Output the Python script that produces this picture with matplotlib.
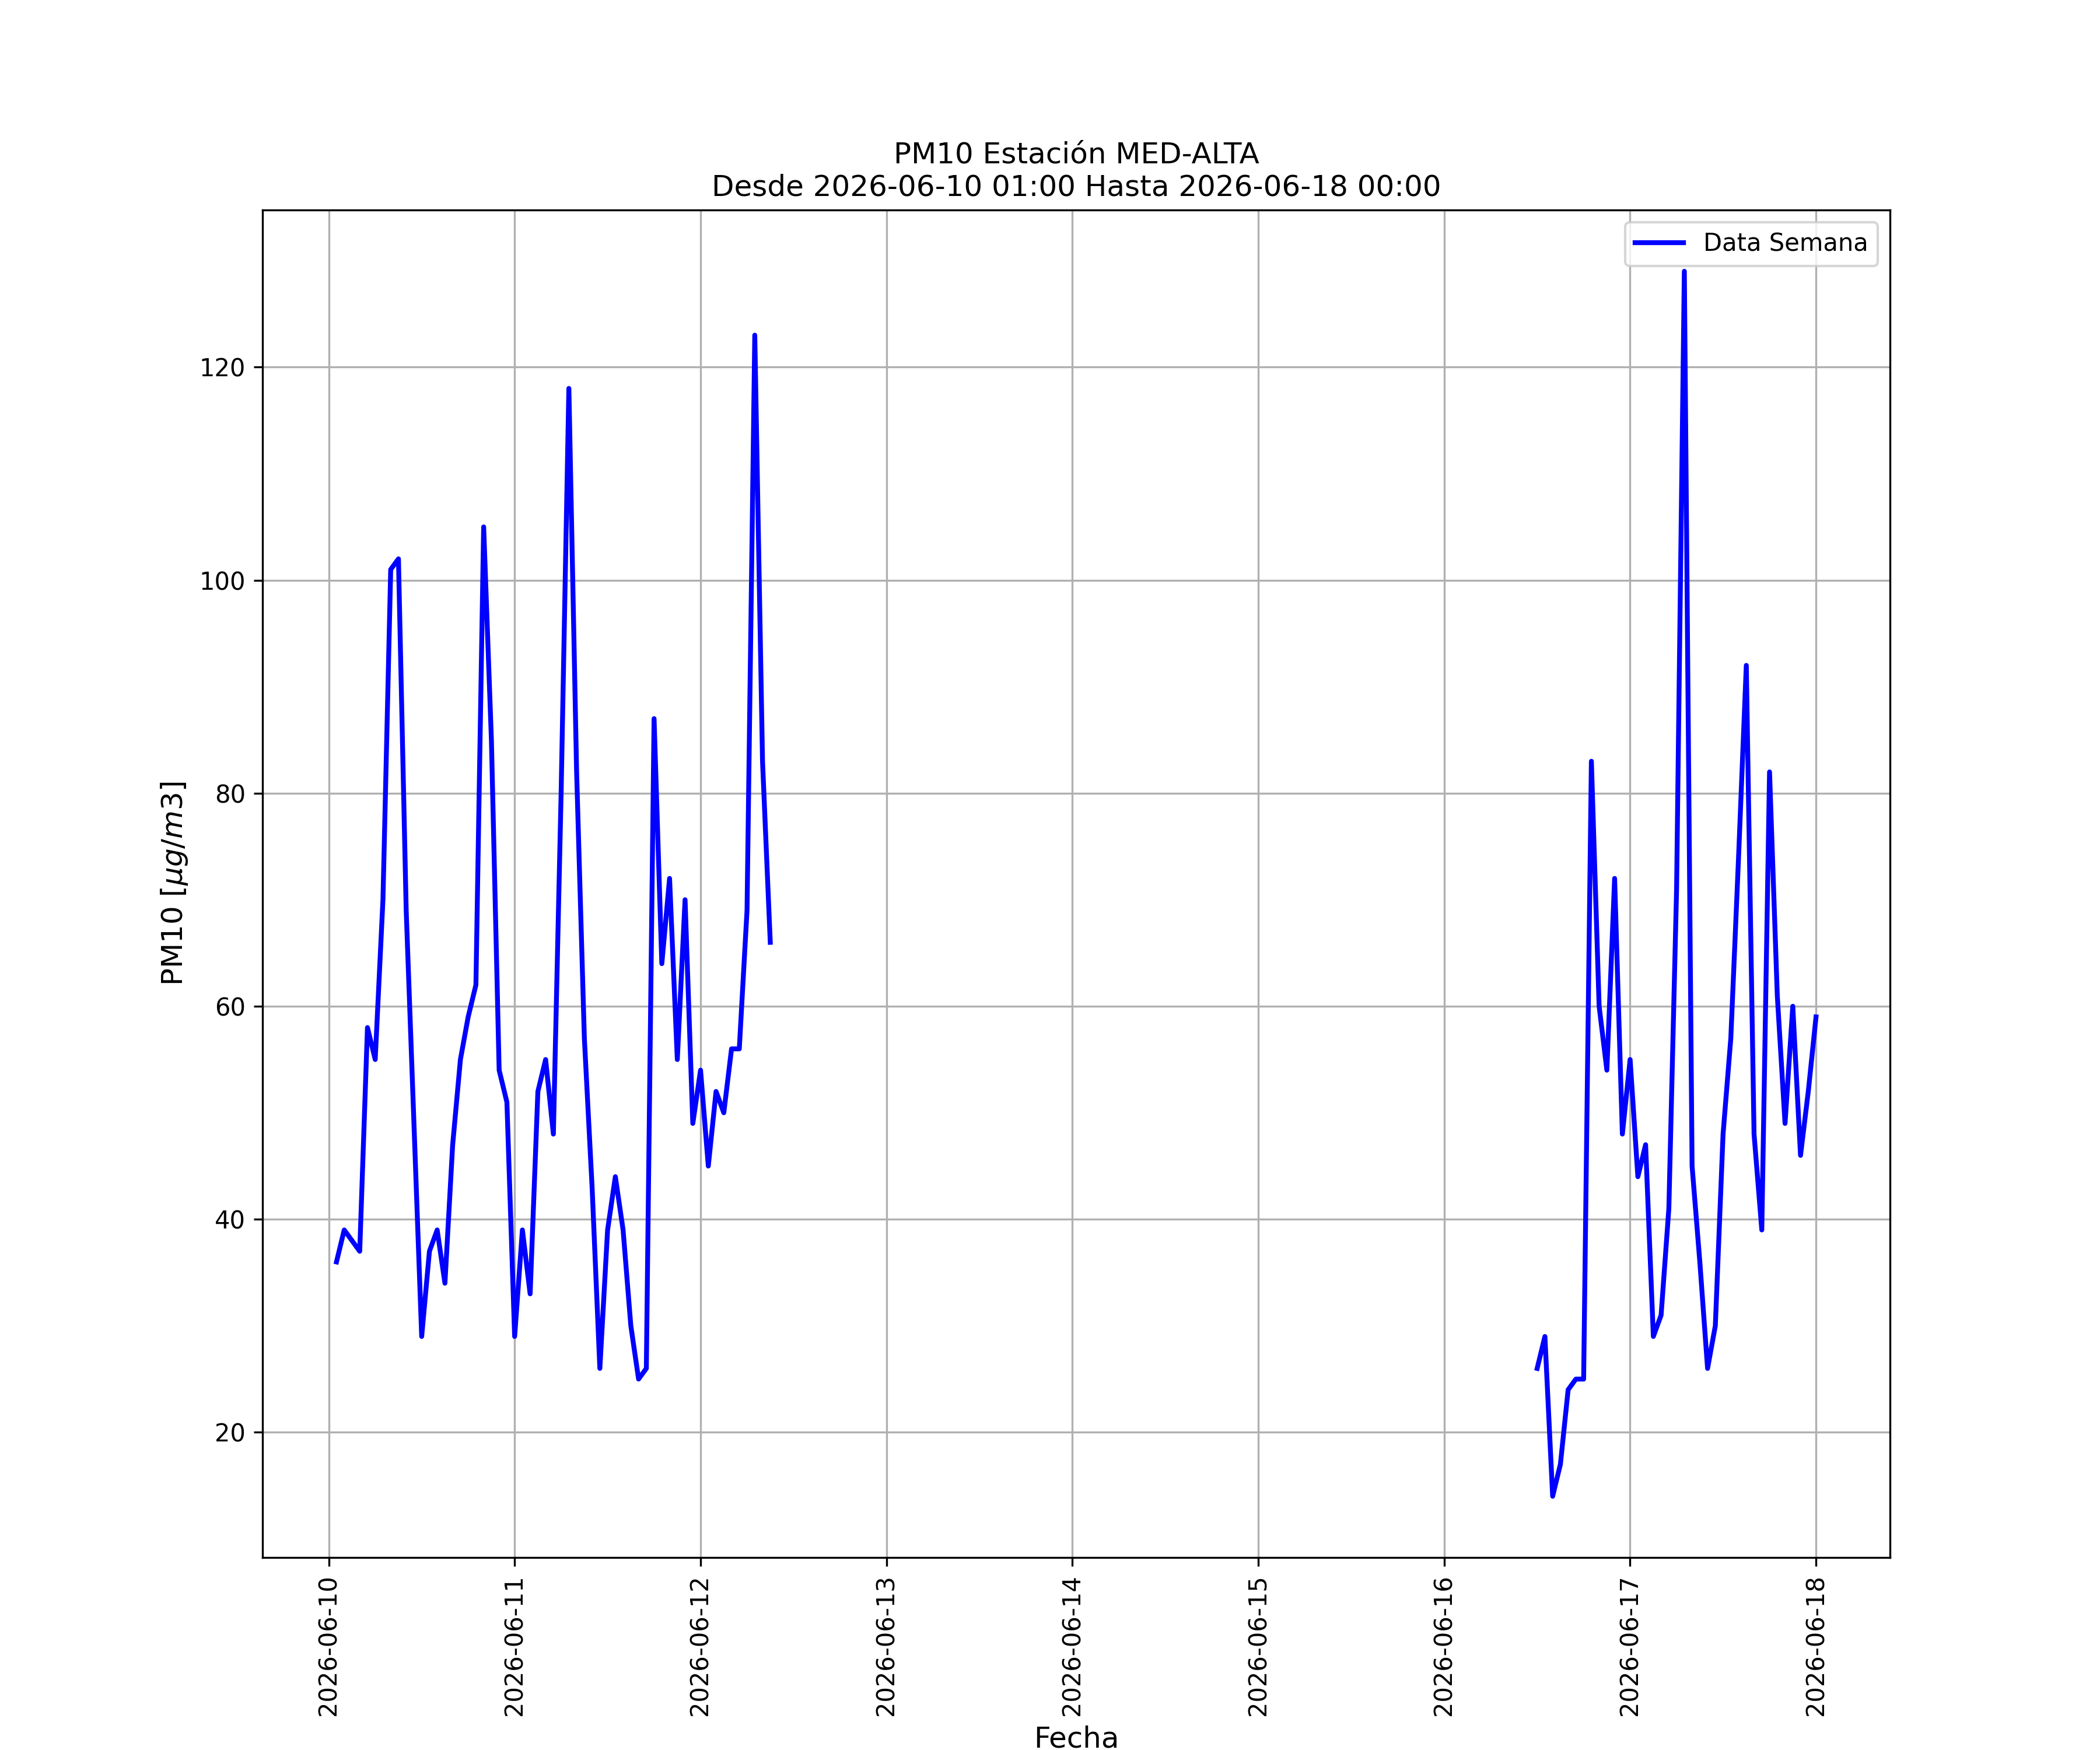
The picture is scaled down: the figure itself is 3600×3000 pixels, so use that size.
import numpy as np
import pandas as pd
import matplotlib
matplotlib.use('Agg')
import matplotlib.pyplot as plt
import matplotlib.dates as mdates

station = 'MED-ALTA'
date_from = '2026-06-10 01:00'
date_to = '2026-06-18 00:00'

# hourly PM10, first block: 2026-06-10 01:00 .. 2026-06-12 09:00
start_1 = '2026-06-10 01:00'
pm10_1 = [36, 39, 38, 37, 58, 55, 70, 101, 102, 69, 49, 29, 37, 39, 34, 47,
          55, 59, 62, 105, 85, 54, 51,
          29, 39, 33, 52, 55, 48, 80, 118, 82, 57, 43, 26, 39, 44, 39, 30,
          25, 26, 87, 64, 72, 55, 70, 49,
          54, 45, 52, 50, 56, 56, 69, 123, 83, 66]

# second block: 2026-06-16 12:00 .. 2026-06-18 00:00
start_2 = '2026-06-16 12:00'
pm10_2 = [26, 29, 14, 17, 24, 25, 25, 83, 60, 54, 72, 48,
          55, 44, 47, 29, 31, 41, 71, 129, 45, 36, 26, 30, 48, 57,
          74, 92, 48, 39, 82, 61, 49, 60, 46, 52,
          59]

s1 = pd.Series(pm10_1, index=pd.date_range(start_1, periods=len(pm10_1), freq='h'))
s2 = pd.Series(pm10_2, index=pd.date_range(start_2, periods=len(pm10_2), freq='h'))
full_idx = pd.date_range(date_from, date_to, freq='h')
data = pd.concat([s1, s2]).reindex(full_idx).astype(float)

fig, ax = plt.subplots(figsize=(12, 10))
ax.plot(data.index, data.values, color='blue', linewidth=2, label='Data Semana')
ax.set_title('PM10 Estación ' + station + '\nDesde ' + date_from + ' Hasta ' + date_to)
ax.set_xlabel('Fecha', fontsize=12)
ax.set_ylabel(r'PM10 [$\mu g/m3$]', fontsize=12)
ax.xaxis.set_major_locator(mdates.DayLocator())
ax.xaxis.set_major_formatter(mdates.DateFormatter('%Y-%m-%d'))
plt.setp(ax.get_xticklabels(), rotation=90)
ax.grid(True)
ax.legend(loc='upper right')
fig.savefig('out.png', dpi=300)
